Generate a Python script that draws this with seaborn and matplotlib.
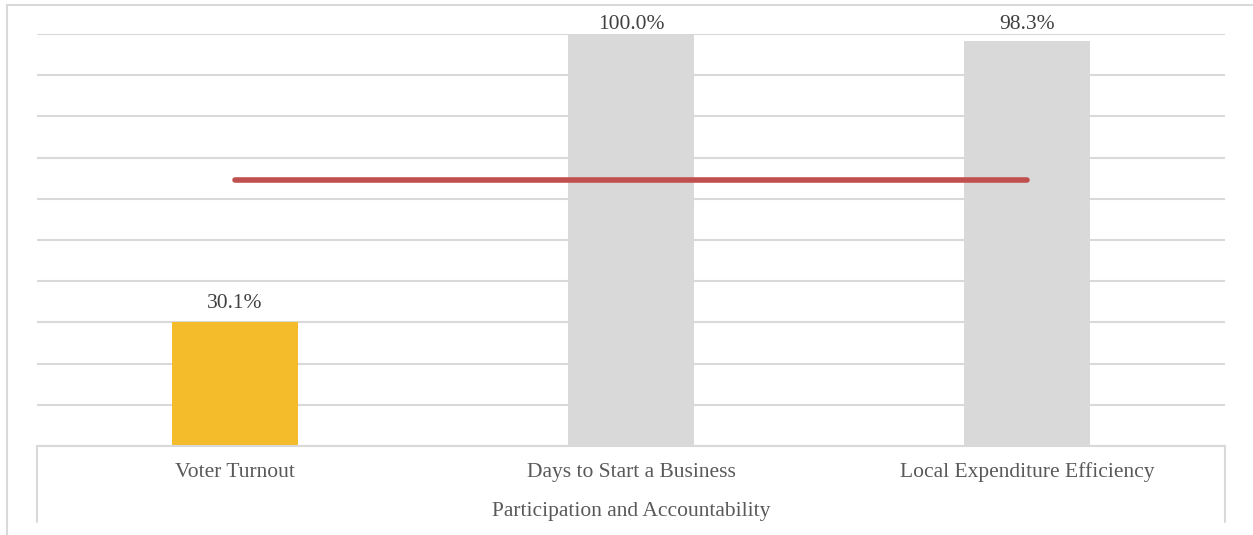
import matplotlib
matplotlib.use("Agg")
import matplotlib.pyplot as plt
import seaborn as sns
import pandas as pd
from matplotlib.lines import Line2D
from matplotlib.patches import Rectangle

categories = ["Voter Turnout", "Days to Start a Business", "Local Expenditure Efficiency"]
values = [30.1, 100.0, 98.3]
bar_colors = ["#F4BC2A", "#D9D9D9", "#D9D9D9"]
benchmark = 64.6
group_label = "Participation and Accountability"

sns.set_theme(style="white")
plt.rcParams["font.family"] = ["Liberation Serif", "DejaVu Serif"]

df = pd.DataFrame({"category": categories, "value": values})

fig = plt.figure(figsize=(12.53, 5.35), dpi=100)
ax = fig.add_axes([37 / 1253, 1 - 446 / 535, (1225 - 37) / 1253, (446 - 34) / 535])

sns.barplot(data=df, x="category", y="value", hue="category", palette=bar_colors,
            width=0.316, legend=False, ax=ax, saturation=1, linewidth=0)

ax.set_ylim(0, 100)
ax.set_xlim(-0.5, 2.5)
ax.set_yticks(range(0, 101, 10))
ax.yaxis.grid(True, color="#D9D9D9", linewidth=1.5)
ax.set_axisbelow(True)
ax.tick_params(left=False, labelleft=False, bottom=False, labelbottom=False)
for s in ["left", "right", "top"]:
    ax.spines[s].set_visible(False)
ax.spines["bottom"].set_color("#D9D9D9")
ax.spines["bottom"].set_linewidth(1.5)
ax.set_xlabel("")
ax.set_ylabel("")

# benchmark line spanning the category centres
ax.plot([0, len(categories) - 1], [benchmark, benchmark], color="#C0504D",
        linewidth=4, solid_capstyle="round", zorder=5)

FS = 15.5

# value labels, kept inside the top of the plotting area
for i, v in enumerate(values):
    y_lab = min(v + 4.6, 102.4)
    ax.text(i, y_lab, f"{v:.1f}%", ha="center", va="center", fontsize=FS,
            color="#404040", clip_on=False)

# category labels and group label below the axis
for i, c in enumerate(categories):
    ax.annotate(c, (i, 0), xytext=(0, -19), textcoords="offset points",
                ha="center", va="center", fontsize=FS, color="#595959",
                annotation_clip=False)
ax.annotate(group_label, (1, 0), xytext=(0, -47.5), textcoords="offset points",
            ha="center", va="center", fontsize=FS, color="#595959",
            annotation_clip=False)

# vertical boundaries of the category axis block
W, H = 1253, 535
for xp in (37, 1225):
    fig.add_artist(Line2D([xp / W, xp / W], [1 - 446 / H, 1 - 522 / H],
                          color="#D9D9D9", linewidth=1.5))

# outer chart frame (extends past the right/bottom edge)
fig.add_artist(Rectangle((7 / W, -0.1), 1.2, 1 - 5 / H + 0.1, fill=False,
                         edgecolor="#D9D9D9", linewidth=1.5,
                         transform=fig.transFigure))

fig.savefig("out.png", dpi=100, facecolor="white")
